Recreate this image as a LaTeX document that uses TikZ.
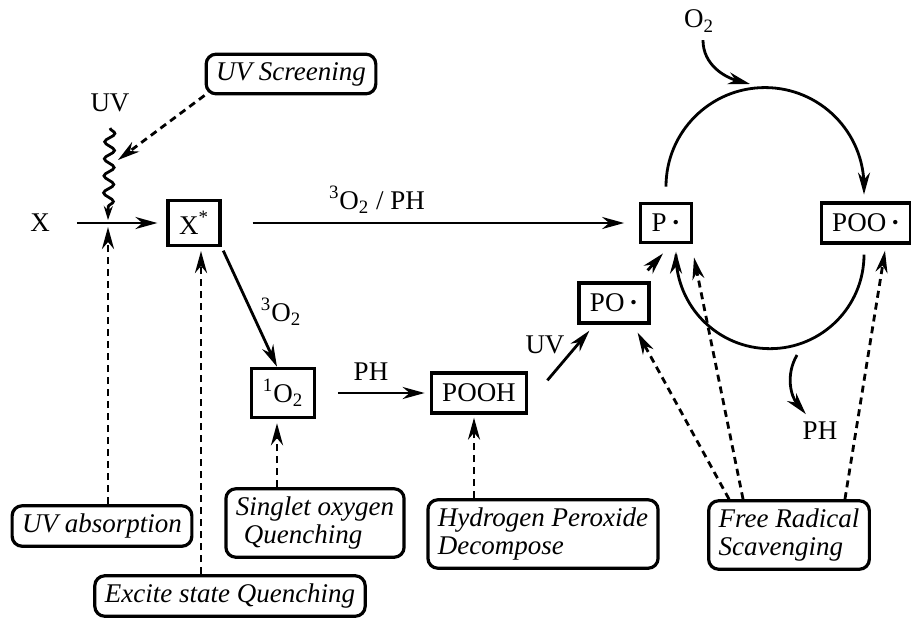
\documentclass[tikz,border=0pt]{standalone}
\usepackage{fontspec}
\setmainfont{Liberation Serif}
\usetikzlibrary{arrows.meta,decorations.pathmorphing}

\begin{document}
\begin{tikzpicture}[x=0.5pt,y=-0.5pt,font=\fontsize{13.5}{14}\selectfont,
    >={Stealth[length=11pt,width=6pt,inset=3.5pt]},line width=1.4pt]
  \tikzstyle{specnode}=[draw, line width=1.6pt, inner sep=5.5pt]
  \tikzstyle{methodnode}=[draw, line width=1.6pt, rounded corners=5pt, inner xsep=5pt,
    inner ysep=4pt, align=left, font=\fontsize{13.5}{14}\selectfont\itshape]
  \tikzstyle{dashedge}=[->, dash pattern=on 3.5pt off 2.5pt]
  \useasboundingbox (0,0) rectangle (911,617);
  % species
  \node (Xl) at (40,223) {X};
  \node (UVl) at (110,103) {UV};
  \node[specnode] (Xs) at (194,223) {X\textsuperscript{*}};
  \node[specnode] (O1) at (283,393) {\textsuperscript{1}O\textsubscript{2}};
  \node[specnode] (POOH) at (479,393) {POOH};
  \node[specnode] (PO) at (614,303) {PO\,\textbf{\textperiodcentered}};
  \node[specnode] (P) at (666,223) {P\,\textbf{\textperiodcentered}};
  \node[specnode] (POO) at (866,223) {POO\,\textbf{\textperiodcentered}};
  % protection methods
  \node[methodnode] (scr) at (291,74) {UV Screening};
  \node[methodnode] (abs) at (102,526) {UV absorption};
  \node[methodnode] (exc) at (230,596) {Excite state Quenching};
  \node[methodnode] (sing) at (315,523) {Singlet oxygen\\ \hspace*{4pt}Quenching};
  \node[methodnode] (hyd) at (543,534) {Hydrogen Peroxide\\Decompose};
  \node[methodnode] (free) at (789,535) {Free Radical\\Scavenging};
  % reagents
  \node (O2l) at (699,21) {O\textsubscript{2}};
  \node (PHl) at (820,431) {PH};
  \node (uvl) at (545,345) {UV};
  \node (phl) at (371,372) {PH};
  \node (o3l) at (281,312) {\textsuperscript{3}O\textsubscript{2}};
  \node (o3phl) at (377,200) {\textsuperscript{3}O\textsubscript{2} / PH};
  \coordinate (cross) at (108,223);
  \coordinate (hit) at (118,160);
  \coordinate (o2in) at (750,84);
  \coordinate (phout) at (797,355);
  % reactions
  \draw[->, shorten <=9.5pt, shorten >=4.5pt] (Xl) -- (Xs);
  \draw[decorate, decoration={snake, amplitude=2.5pt, segment length=8.5pt, post length=6pt},
    -{Stealth[length=7pt,width=4.5pt]}] ([yshift=-4pt]UVl.south) -- ([yshift=1.5pt]cross);
  \draw[->, shorten <=2pt] (Xs.south east) -- ([xshift=-3pt]O1.north);
  \draw[->, shorten <=15.5pt, shorten >=7.5pt] (Xs) -- (P);
  \draw[->, shorten <=11pt, shorten >=2.5pt] (O1) -- (POOH);
  \draw[->] ([xshift=9.5pt,yshift=-4.5pt]POOH.north east) -- ([xshift=6pt,yshift=-3pt]PO.south west);
  \draw[->] ([xshift=-1.5pt,yshift=5.5pt]PO.north east) -- ([xshift=-1.5pt,yshift=-4.5pt]P.south);
  \draw[->] ([yshift=7.5pt]P.north) arc[start angle=180, end angle=360, radius=99] -- ++(0,8);
  \draw[->] ([xshift=-1pt,yshift=-5pt]POO.south) arc[start angle=0, end angle=180, radius=94] -- ++(0,-3);
  \draw[->] ([xshift=2pt]O2l.south) to[out=-90, in=165] (o2in);
  \draw[->] (phout) to[out=-120, in=130] (PHl);
  % inhibition
  \draw[dashedge] (scr.south west) -- (hit);
  \draw[dashedge] (abs.north -| cross) -- ([yshift=-2pt]cross);
  \draw[dashedge] ([xshift=3.5pt]Xs.south |- exc.north) -- ([xshift=3.5pt,yshift=-2pt]Xs.south);
  \draw[dashedge] ([xshift=-3pt]O1.south |- sing.north) -- ([xshift=-3pt,yshift=-2pt]O1.south);
  \draw[dashedge] ([xshift=-2.5pt]POOH.south |- hyd.north) -- ([xshift=-2.5pt,yshift=-1.5pt]POOH.south);
  \draw[dashedge] ([xshift=11pt]free.north west) -- ([xshift=-6.5pt,yshift=-4pt]PO.south east);
  \draw[dashedge] ([xshift=18pt]free.north west) -- ([xshift=14pt,yshift=-6.5pt]P.south);
  \draw[dashedge] ([xshift=-13pt]free.north east) -- ([xshift=9.5pt,yshift=-3pt]POO.south);
\end{tikzpicture}
\end{document}
